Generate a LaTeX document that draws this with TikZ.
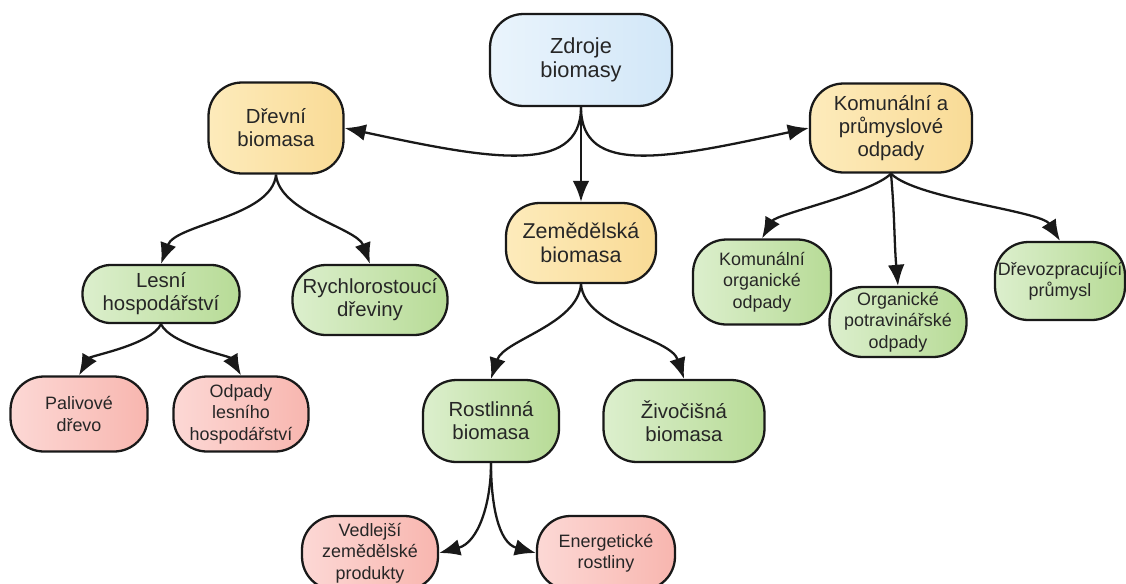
\documentclass[tikz,border=0pt]{standalone}
\usepackage{fontspec}
\setmainfont{Liberation Sans}
\usepackage{tikz}
\usetikzlibrary{arrows.meta}
\definecolor{bluelight}{HTML}{EAF4FC}
\definecolor{bluedark}{HTML}{D2E7F8}
\definecolor{yellowlight}{HTML}{FDEBBB}
\definecolor{yellowdark}{HTML}{F9DB96}
\definecolor{greenlight}{HTML}{DCEFCD}
\definecolor{greendark}{HTML}{B7DB96}
\definecolor{pinklight}{HTML}{FCD8D5}
\definecolor{pinkdark}{HTML}{F8B6AF}

\begin{document}
\begin{tikzpicture}[x=0.02cm, y=0.02cm,
% define styles here
concept/.style={rectangle, draw=black!90, line width=1.3pt, rounded corners=19pt,
  align=center, inner sep=0pt, text=black!85},
bigtext/.style={font=\fontsize{11.6}{13}\selectfont},
smalltext/.style={font=\fontsize{10.2}{12.2}\selectfont},
bluebox/.style={concept, bigtext, left color=bluelight, right color=bluedark},
yellowbox/.style={concept, bigtext, left color=yellowlight, right color=yellowdark},
greenbox/.style={concept, bigtext, left color=greenlight, right color=greendark},
smallgreen/.style={concept, smalltext, left color=greenlight, right color=greendark},
pinkbox/.style={concept, smalltext, left color=pinklight, right color=pinkdark},
link/.style={-{Latex[length=12pt,width=9.5pt]}, line width=1.3pt, black!90}
]
\clip (0,0) rectangle (1126,-583);

% top level
\node[bluebox, font=\fontsize{12.4}{14}\selectfont, minimum width=3.64cm, minimum height=1.84cm] (zdroje) at (581,-60) {Zdroje\\biomasy};
\node[yellowbox, minimum width=2.70cm, minimum height=1.82cm] (drevni) at (276,-128) {Dřevní\\biomasa};
\node[yellowbox, minimum width=3.24cm, minimum height=1.78cm] (komunalni) at (891,-128) {Komunální a\\průmyslové\\odpady};
\node[yellowbox, font=\fontsize{12.2}{13.6}\selectfont, minimum width=3.00cm, minimum height=1.60cm] (zemedelska) at (581,-243) {Zemědělská\\biomasa};

% second level
\node[greenbox, rounded corners=16pt, minimum width=3.14cm, minimum height=1.16cm] (lesni) at (161,-294) {Lesní\\hospodářství};
\node[greenbox, minimum width=3.10cm, minimum height=1.40cm] (rychlo) at (370,-300) {Rychlorostoucí\\dřeviny};
\node[greenbox, minimum width=2.72cm, minimum height=1.64cm] (rostlinna) at (491,-421) {Rostlinná\\biomasa};
\node[greenbox, minimum width=3.22cm, minimum height=1.64cm] (zivocisna) at (684,-421) {Živočišná\\biomasa};
\node[smallgreen, minimum width=2.76cm, minimum height=1.70cm] (komorg) at (762,-282) {Komunální\\organické\\odpady};
\node[smallgreen, minimum width=2.74cm, minimum height=1.40cm] (orgpotr) at (898,-322) {Organické\\potravinářské\\odpady};
\node[smallgreen, minimum width=2.60cm, minimum height=1.56cm] (drevozpr) at (1060,-281) {Dřevozpracující\\průmysl};

% third level
\node[pinkbox, minimum width=2.74cm, minimum height=1.50cm] (palivove) at (79,-414) {Palivové\\dřevo};
\node[pinkbox, minimum width=2.70cm, minimum height=1.50cm] (odpadyles) at (241,-414) {Odpady\\lesního\\hospodářství};
\node[pinkbox, minimum width=2.72cm, minimum height=1.48cm] (vedlejsi) at (370,-553) {Vedlejší\\zemědělské\\produkty};
\node[pinkbox, minimum width=2.76cm, minimum height=1.48cm] (energeticke) at (606,-553) {Energetické\\rostliny};

% connectors
\draw[link] (zdroje.south) .. controls +(0,-70) and +(140,-30) .. (drevni.east);
\draw[link] (zdroje.south) .. controls +(0,-70) and +(-140,-30) .. (komunalni.west);
\draw[link] (zdroje.south) -- (zemedelska.north);

\draw[link] (drevni.south) to[out=-95, in=70, looseness=0.75] (lesni.north);
\draw[link] (drevni.south) to[out=-85, in=110, looseness=0.75] (rychlo.north);
\draw[link] (lesni.south) to[out=-115, in=60, looseness=0.6] (palivove.north);
\draw[link] (lesni.south) to[out=-65, in=120, looseness=0.6] (odpadyles.north);

\draw[link] (zemedelska.south) to[out=-95, in=72, looseness=0.8] (rostlinna.north);
\draw[link] (zemedelska.south) to[out=-85, in=108, looseness=0.8] (zivocisna.north);
\draw[link] (rostlinna.south) to[out=-90, in=15] (vedlejsi.east);
\draw[link] (rostlinna.south) to[out=-90, in=165] (energeticke.west);

\draw[link] (komunalni.south) to[out=-135, in=60, looseness=0.5] (komorg.north);
\draw[link] (komunalni.south) to[out=-85, in=95] (orgpotr.north);
\draw[link] (komunalni.south) to[out=-45, in=122, looseness=0.5] (drevozpr.north);
\end{tikzpicture}
\end{document}
